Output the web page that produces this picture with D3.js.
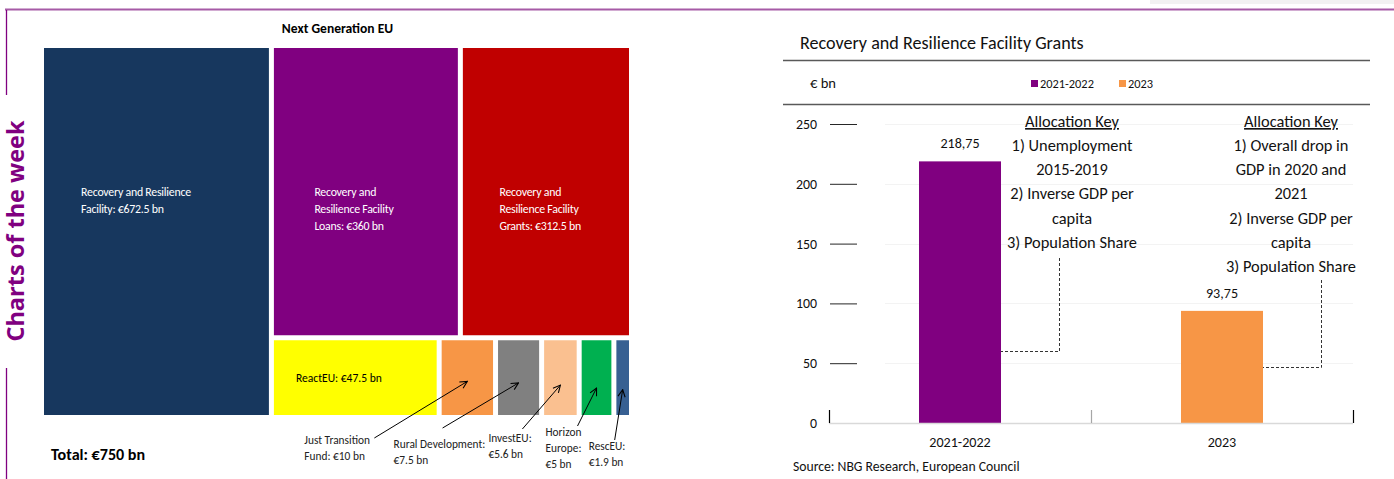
<!DOCTYPE html>
<html>
<head>
<meta charset="utf-8">
<script src="https://cdn.jsdelivr.net/npm/d3@7"></script>
<style>
  html, body { margin: 0; padding: 0; background: #ffffff; }
  svg { display: block; }
</style>
</head>
<body>
<svg id="chart" width="1394" height="479"></svg>
<script>
// ---- Next Generation EU breakdown, € bn ----
const facilityName = "Recovery and Resilience Facility";
const facilityValue = 672.5;
const facilityParts = ["Recovery and Resilience Facility Loans", "Recovery and Resilience Facility Grants"];
const facilityPartValues = [360, 312.5];
const otherPrograms = ["ReactEU", "Just Transition Fund", "Rural Development", "InvestEU", "Horizon Europe", "RescEU"];
const otherValues = [47.5, 10, 7.5, 5.6, 5, 1.9];

// label text, {v} is replaced by the formatted value
const facilityLabel = ["Recovery and Resilience", "Facility: {v}"];
const facilityPartLabels = [
  ["Recovery and", "Resilience Facility", "Loans: {v}"],
  ["Recovery and", "Resilience Facility", "Grants: {v}"]
];
const otherLabels = [
  ["ReactEU: {v}"],
  ["Just Transition", "Fund: {v}"],
  ["Rural Development:", "{v}"],
  ["InvestEU:", "{v}"],
  ["Horizon", "Europe:", "{v}"],
  ["RescEU:", "{v}"]
];

const facilityColor = "#17375e";
const facilityPartColors = ["#800080", "#c00000"];
const otherColors = ["#ffff00", "#f79646", "#808080", "#fac090", "#00b050", "#376092"];

// ---- Recovery and Resilience Facility grants, € bn ----
const grantPeriods = ["2021-2022", "2023"];
const grantValues = [218.75, 93.75];
const grantColors = ["#800080", "#f79646"];
const yTicks = [0, 50, 100, 150, 200, 250];
const allocationKeys = [
  ["1) Unemployment", "2015-2019", "2) Inverse GDP per", "capita", "3) Population Share"],
  ["1) Overall drop in", "GDP in 2020 and", "2021", "2) Inverse GDP per", "capita", "3) Population Share"]
];

const FONT = "Carlito, Lato, 'Liberation Sans', sans-serif";
const svg = d3.select("#chart").style("font-family", FONT);

// Sizes below are given in Calibri pixels; scale them to the face actually used.
const probe = svg.append("text").attr("font-size", 100).text("3) Population Share");
const FACTOR = 799 / probe.node().getComputedTextLength();
probe.remove();
const px = s => s * FACTOR;

const euro = v => "€" + d3.format("~f")(v) + " bn";
const fillLabel = (lines, v) => lines.map(s => s.replace("{v}", euro(v)));

// ---- page frame ----
svg.append("rect").attr("x", 1150).attr("y", 0).attr("width", 244).attr("height", 4).attr("fill", "#f2f2f2");
svg.append("line").attr("x1", 5).attr("x2", 1394).attr("y1", 9.5).attr("y2", 9.5)
  .attr("stroke", "#a65aa6").attr("stroke-width", 2);
svg.append("line").attr("x1", 6.5).attr("x2", 6.5).attr("y1", 10).attr("y2", 95)
  .attr("stroke", "#800080").attr("stroke-width", 1.3);
svg.append("line").attr("x1", 6.5).attr("x2", 6.5).attr("y1", 368).attr("y2", 479)
  .attr("stroke", "#800080").attr("stroke-width", 1.3);
svg.append("text")
  .attr("transform", "translate(24,231) rotate(-90)")
  .attr("text-anchor", "middle")
  .attr("font-family", "'Open Sans', sans-serif")
  .attr("font-weight", 700).attr("font-size", 23.5)
  .attr("fill", "#800080")
  .text("Charts of the week");

// ---- treemap ----
const tm = { x: 44, y: 48, w: 585, h: 367 };
const area = d3.scalePow().exponent(0.7).domain([0, 1]).range([0, 1]);

const tree = {
  name: "Next Generation EU",
  children: [
    { name: facilityName, value: facilityValue, color: facilityColor, label: fillLabel(facilityLabel, facilityValue), ink: "#ffffff" },
    { name: "components", children: [
      { name: "facility parts", children: facilityParts.map((n, i) => ({
          name: n, value: facilityPartValues[i], color: facilityPartColors[i],
          label: fillLabel(facilityPartLabels[i], facilityPartValues[i]), ink: "#ffffff" })) },
      { name: "other programmes", children: otherPrograms.map((n, i) => ({
          name: n, value: otherValues[i], color: otherColors[i],
          label: fillLabel(otherLabels[i], otherValues[i]), ink: "#000000", idx: i })) }
    ] }
  ]
};

const root = d3.hierarchy(tree).sum(d => (d.children ? 0 : area(d.value)));
d3.treemap()
  .size([tm.w, tm.h])
  .paddingInner(5)
  .tile((node, x0, y0, x1, y1) => (node.depth % 2 === 0 ? d3.treemapDice : d3.treemapSlice)(node, x0, y0, x1, y1))(root);

const gTm = svg.append("g").attr("transform", `translate(${tm.x},${tm.y})`);
const leaves = root.leaves();

gTm.selectAll("rect.cell").data(leaves).join("rect")
  .attr("class", "cell")
  .attr("x", d => d.x0).attr("y", d => d.y0)
  .attr("width", d => d.x1 - d.x0).attr("height", d => d.y1 - d.y0)
  .attr("fill", d => d.data.color);

// labels inside the large cells
const bigCells = leaves.filter(d => d.data.idx === undefined);
bigCells.forEach(d => {
  const t = gTm.append("text")
    .attr("font-size", px(11.8)).attr("fill", d.data.ink)
    .attr("letter-spacing", -0.25);
  const lx = d.x0 + (d.x1 - d.x0) * (d.depth === 1 ? 0.165 : 0.22);
  d.data.label.forEach((s, k) => {
    t.append("tspan").attr("x", lx).attr("y", d.y0 + 148 + k * 17).text(s);
  });
});

// ReactEU label sits inside its cell
const react = leaves.find(d => d.data.idx === 0);
gTm.append("text")
  .attr("x", react.x0 + 22).attr("y", (react.y0 + react.y1) / 2 + 4)
  .attr("font-size", px(11.5)).attr("fill", "#000")
  .text(react.data.label[0]);

// the small programmes are labelled below the map with arrows
const marker = svg.append("defs").append("marker")
  .attr("id", "arrow").attr("viewBox", "0 0 10 10")
  .attr("refX", 9).attr("refY", 5)
  .attr("markerWidth", 9).attr("markerHeight", 9)
  .attr("markerUnits", "userSpaceOnUse")
  .attr("orient", "auto");
marker.append("path").attr("d", "M1,1 L9,5 L1,9").attr("fill", "none").attr("stroke", "#000").attr("stroke-width", 1.2);

// annotation placement: label offset from cell centre, first baseline, arrow start, arrow tip depth
const notes = [
  null,
  { dx: -163, base: 444, sx: 70, sy: -6, tip: 0.55 },
  { dx: -125, base: 448, sx: 49, sy: -20, tip: 0.57 },
  { dx: -72, base: 442, sx: 34, sy: -13, tip: 0.6 },
  { dx: -51, base: 436, sx: 32, sy: -10, tip: 0.64 },
  { dx: -34, base: 450, sx: 26, sy: -10, tip: 0.66 }
];
leaves.filter(d => d.data.idx > 0).forEach(d => {
  const n = notes[d.data.idx];
  const cx = tm.x + (d.x0 + d.x1) / 2;
  const lx = cx + n.dx;
  const t = svg.append("text").attr("font-size", px(11.3)).attr("fill", "#222");
  d.data.label.forEach((s, k) => t.append("tspan").attr("x", lx).attr("y", n.base + k * 16).text(s));
  svg.append("line")
    .attr("x1", lx + n.sx).attr("y1", n.base + n.sy)
    .attr("x2", cx).attr("y2", tm.y + d.y0 + (d.y1 - d.y0) * n.tip)
    .attr("stroke", "#000").attr("stroke-width", 1)
    .attr("marker-end", "url(#arrow)");
});

svg.append("text")
  .attr("x", tm.x + tm.w / 2 + 1).attr("y", 33)
  .attr("text-anchor", "middle").attr("font-weight", 700).attr("font-size", px(13.5))
  .text(tree.name);

svg.append("text")
  .attr("x", 51).attr("y", 460)
  .attr("font-weight", 700).attr("font-size", px(16))
  .text("Total: " + euro(facilityValue + d3.sum(otherValues)));

// ---- grants bar chart ----
const plot = { left: 829, right: 1353, top: 124, bottom: 423 };
const x = d3.scaleBand().domain(grantPeriods).range([plot.left, plot.right])
  .paddingInner(0.687).paddingOuter(0.3435);
const slot = d3.scaleBand().domain(grantPeriods).range([plot.left, plot.right]);
const y = d3.scaleLinear().domain([0, 250]).range([plot.bottom, plot.top]);
const comma = d3.formatLocale({ decimal: ",", thousands: ".", grouping: [3], currency: ["€", ""] }).format(".2f");

svg.append("text").attr("x", 800).attr("y", 49).attr("font-size", px(18)).attr("fill", "#111")
  .text("Recovery and Resilience Facility Grants");
svg.append("line").attr("x1", 783).attr("x2", 1370).attr("y1", 60.5).attr("y2", 60.5).attr("stroke", "#595959").attr("stroke-width", 1.3);
svg.append("line").attr("x1", 783).attr("x2", 1370).attr("y1", 104.5).attr("y2", 104.5).attr("stroke", "#595959").attr("stroke-width", 1.3);
svg.append("text").attr("x", 810).attr("y", 88).attr("font-size", px(14.5)).attr("fill", "#111").text("€ bn");

// legend
const legend = svg.append("g").attr("transform", "translate(1031,79)");
const legendItems = legend.selectAll("g").data(grantPeriods).join("g")
  .attr("transform", (d, i) => `translate(${i * 88},0)`);
legendItems.append("rect").attr("width", 7).attr("height", 7).attr("y", 1).attr("fill", (d, i) => grantColors[i]);
legendItems.append("text").attr("x", 9).attr("y", 9).attr("font-size", px(12.3)).attr("fill", "#111").text(d => d);

// faint gridlines
svg.append("g").selectAll("line").data(yTicks.filter(v => v > 0)).join("line")
  .attr("x1", 885).attr("x2", plot.right)
  .attr("y1", d => Math.round(y(d)) + 0.5).attr("y2", d => Math.round(y(d)) + 0.5)
  .attr("stroke", "#f3f3f3");

// y axis: labels with short tick rules
const yAxis = svg.append("g").attr("transform", `translate(${plot.left + 28},0)`)
  .call(d3.axisLeft(y).tickValues(yTicks).tickSize(27).tickPadding(13).tickFormat(d3.format("d")));
yAxis.select(".domain").remove();
yAxis.selectAll(".tick line").attr("stroke", "#262626");
yAxis.selectAll(".tick text").attr("font-size", px(13.8)).attr("font-family", FONT).attr("fill", "#111");
yAxis.selectAll(".tick").filter(d => d === 0).select("line").remove();

// bars
svg.append("g").selectAll("rect").data(grantPeriods).join("rect")
  .attr("x", d => x(d)).attr("width", x.bandwidth())
  .attr("y", (d, i) => y(grantValues[i])).attr("height", (d, i) => y(0) - y(grantValues[i]))
  .attr("fill", (d, i) => grantColors[i]);

svg.append("g").selectAll("text").data(grantPeriods).join("text")
  .attr("x", d => x(d) + x.bandwidth() / 2)
  .attr("y", (d, i) => y(grantValues[i]) - 13)
  .attr("text-anchor", "middle").attr("font-size", px(14)).attr("fill", "#111")
  .text((d, i) => comma(grantValues[i]));

// x axis baseline and category separators
svg.append("line").attr("x1", plot.left).attr("x2", plot.right).attr("y1", plot.bottom + 0.5).attr("y2", plot.bottom + 0.5)
  .attr("stroke", "#d9d9d9").attr("stroke-width", 1.3);
const seps = [plot.left, ...grantPeriods.slice(1).map(d => slot(d)), plot.right];
svg.append("g").selectAll("line").data(seps).join("line")
  .attr("x1", d => d + 0.5).attr("x2", d => d + 0.5)
  .attr("y1", plot.bottom - 13).attr("y2", plot.bottom)
  .attr("stroke", (d, i) => (i === 0 || i === seps.length - 1 ? "#000" : "#a6a6a6"))
  .attr("stroke-width", 1.2);
svg.append("g").selectAll("text").data(grantPeriods).join("text")
  .attr("x", d => x(d) + x.bandwidth() / 2).attr("y", plot.bottom + 24)
  .attr("text-anchor", "middle").attr("font-size", px(14)).attr("fill", "#111")
  .text(d => d);

// allocation key notes with dashed leaders to the bars
const keyNotes = [
  { dx: 112, leaderX: 99, leaderTop: 258, leaderAt: 60 },
  { dx: 69, leaderX: 99, leaderTop: 280, leaderAt: 47 }
];
grantPeriods.forEach((p, i) => {
  const cx = x(p) + x.bandwidth() / 2;
  const n = keyNotes[i];
  const t = svg.append("text").attr("text-anchor", "middle").attr("font-size", px(16.3)).attr("fill", "#111");
  t.append("tspan").attr("x", cx + n.dx).attr("y", 127).attr("text-decoration", "underline").text("Allocation Key");
  allocationKeys[i].forEach((s, k) => t.append("tspan").attr("x", cx + n.dx).attr("y", 151 + k * 24.2).text(s));
  const lx = Math.round(cx + n.leaderX) + 0.5;
  const ly = Math.round(y(n.leaderAt)) + 0.5;
  svg.append("path")
    .attr("d", `M${lx},${n.leaderTop} V${ly} H${x(p) + x.bandwidth()}`)
    .attr("fill", "none").attr("stroke", "#333").attr("stroke-width", 1)
    .attr("stroke-dasharray", "3,2");
});

svg.append("text").attr("x", 793).attr("y", 471).attr("font-size", px(13.6)).attr("fill", "#111")
  .text("Source: NBG Research, European Council");
</script>
</body>
</html>
